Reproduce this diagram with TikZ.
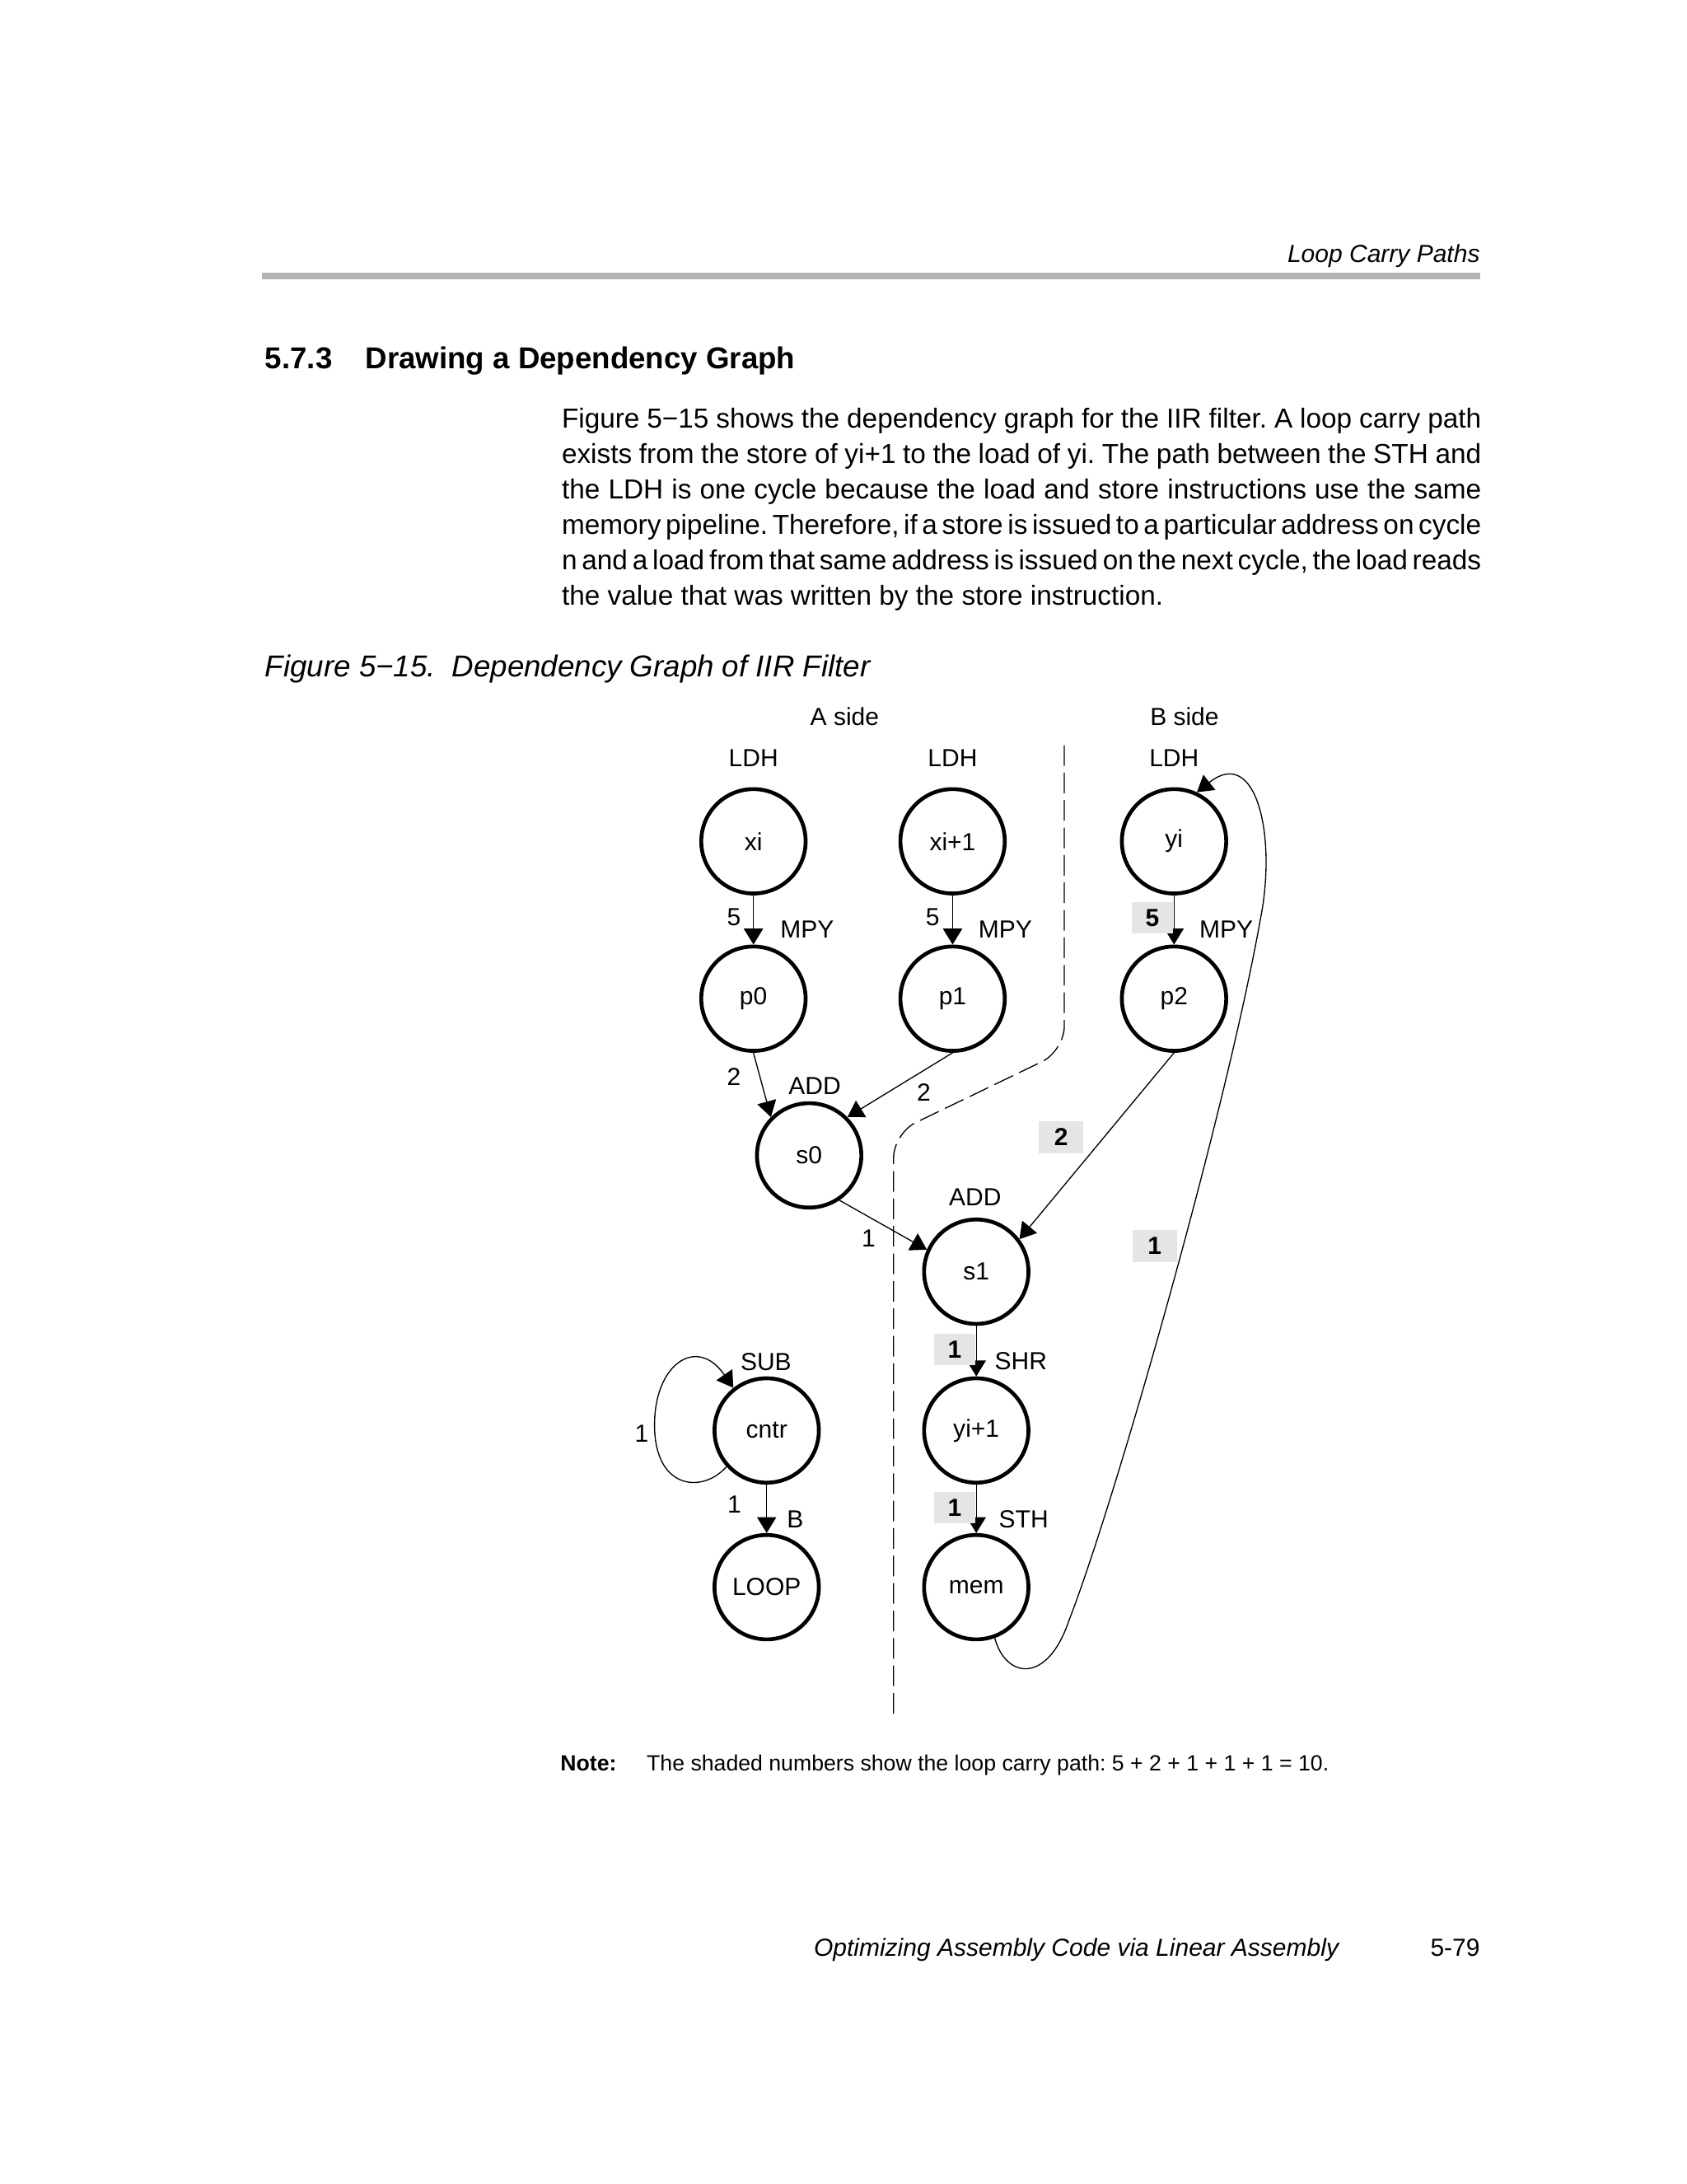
\documentclass[tikz,border=0pt]{standalone}
\usepackage{fontspec}
\setmainfont{Liberation Sans}
\usetikzlibrary{arrows.meta}
\definecolor{rulegray}{RGB}{178,178,178}
\definecolor{shade}{RGB}{229,229,229}
\tikzset{
  op/.style={circle, draw, line width=1.4pt, minimum size=38pt, inner sep=0pt, font=\fontsize{9}{11}\selectfont},
  dep/.style={line width=0.4pt, -{Triangle[length=5.8pt,width=7pt]}},
  lbl/.style={inner sep=0pt, font=\fontsize{9}{11}\selectfont},
  carry/.style={fill=shade, inner sep=0pt, minimum width=15pt, minimum height=11.4pt, font=\fontsize{9}{11}\selectfont\bfseries},
  bodyline/.style={anchor=base west, inner sep=0pt, font=\fontsize{10}{13}\selectfont}
}
\frenchspacing
\newcommand{\fullline}[1]{{\spaceskip=0.278em plus 0.3em minus 0.2em\makebox[334.8pt][s]{#1}}}

\begin{document}
\begin{tikzpicture}[x=0.017828cm, y=-0.017828cm]
\useasboundingbox[fill=white] (0,0) rectangle (1211,1568);

% Draw the page header and the rule
\node[anchor=base east, inner sep=0pt, font=\fontsize{9}{11}\selectfont\itshape] (hdr) at (1063,188.2) {Loop Carry Paths};
\fill[rulegray] (188,195.5) rectangle (1063,200.5);

% Section title
\node[anchor=base west, inner sep=0pt, font=\fontsize{11}{13}\selectfont\bfseries] (secnum) at (190,264.5) {5.7.3};
\node[anchor=base west, inner sep=0pt, font=\fontsize{11}{13}\selectfont\bfseries] (sectitle) at (262,264.5) {Drawing a Dependency Graph};

% Body text, one node per line
\node[bodyline] (l1) at (403,307.1) {\fullline{Figure 5−15 shows the dependency graph for the IIR filter. A loop carry path}};
\node[bodyline] (l2) at (403,332.6) {\fullline{exists from the store of yi+1 to the load of yi. The path between the STH and}};
\node[bodyline] (l3) at (403,358.1) {\fullline{the LDH is one cycle because the load and store instructions use the same}};
\node[bodyline] (l4) at (403,383.6) {\fullline{memory pipeline. Therefore, if a store is issued to a particular address on cycle}};
\node[bodyline] (l5) at (403,409.1) {\fullline{n and a load from that same address is issued on the next cycle, the load reads}};
\node[bodyline] (l6) at (403,434.6) {the value that was written by the store instruction.};

% Figure caption
\node[anchor=base west, inner sep=0pt, font=\fontsize{11}{13}\selectfont\itshape] (cap) at (190,485.8) {Figure 5−15.\hspace{6pt}Dependency Graph of IIR Filter};

% Side headings and the dashed split between them
\node[lbl] (aside) at (606.5,514.5) {A side};
\node[lbl] (bside) at (850.5,514.5) {B side};
\draw[line width=0.4pt, dash pattern=on 7.5pt off 2.5pt, rounded corners=9pt] (764.2,535) -- (764.2,754.5) -- (641.6,813.6) -- (641.6,1234);

% Draw the nodes
\node[op] (xi) at (541,604) {xi};
\node[op] (xi1) at (684,604) {xi+1};
\node[op] (yi) at (843,604) {yi};
\node[op] (p0) at (541,717) {p0};
\node[op] (p1) at (684,717) {p1};
\node[op] (p2) at (843,717) {p2};
\node[op] (s0) at (581,829.5) {s0};
\node[op] (s1) at (701,913) {s1};
\node[op] (cntr) at (550.5,1027) {cntr};
\node[op] (yi1) at (701,1027) {yi+1};
\node[op] (loop) at (550.5,1139.5) {LOOP};
\node[op] (mem) at (701,1139.5) {mem};

% Instruction names
\node[lbl] (ldh0) at (541,544) {LDH};
\node[lbl] (ldh1) at (684,544) {LDH};
\node[lbl] (ldh2) at (843,544) {LDH};
\node[lbl] (mpy0) at (579.5,667.3) {MPY};
\node[lbl] (mpy1) at (721.8,667.3) {MPY};
\node[lbl] (mpy2) at (880.5,667.5) {MPY};
\node[lbl] (add0) at (585,779.7) {ADD};
\node[lbl] (add1) at (700.2,859.4) {ADD};
\node[lbl] (shr) at (733,977) {SHR};
\node[lbl] (sth) at (735,1091) {STH};
\node[lbl] (sub) at (550,977.7) {SUB};
\node[lbl] (br) at (571,1091) {B};

% Draw the edges
\draw[dep] (xi) -- (p0);
\draw[dep] (xi1) -- (p1);
\draw[dep] (yi) -- (p2);
\draw[dep] (p0.south) -- (s0.135);
\draw[dep] (p1.south) -- (s0.45);
\draw[dep] (p2.south) -- (s1.37);
\draw[dep] (s0.-56) -- (s1.156);
\draw[dep] (s1) -- (yi1);
\draw[dep] (yi1) -- (mem);
\draw[dep] (cntr) -- (loop);
\draw[dep] (cntr.222) .. controls (505,1072) and (471,1070) .. (470,1025)
                      .. controls (469,980) and (500,958) .. (cntr.128);
\draw[dep] (mem.-70) .. controls (722,1205) and (752,1210) .. (767.7,1163)
                     .. controls (800,1080) and (880,800) .. (905,660)
                     .. controls (917,600) and (902,535) .. (yi.65);

% Latencies
\node[lbl] (d0) at (527,658.4) {5};
\node[lbl] (d1) at (669.6,658.4) {5};
\node[lbl] (d2) at (527,773) {2};
\node[lbl] (d3) at (663.3,784.5) {2};
\node[lbl] (d4) at (623.7,888.8) {1};
\node[lbl] (d5) at (460.7,1029) {1};
\node[lbl] (d6) at (527.3,1080.2) {1};

% Shaded latencies of the loop carry path
\node[carry] (c0) at (827.5,659) {5};
\node[carry, minimum width=16.2pt, minimum height=11.7pt] (c1) at (762,816.5) {2};
\node[carry, minimum width=16.2pt, minimum height=11.7pt] (c2) at (829,894.5) {1};
\node[carry] (c3) at (685.5,969) {1};
\node[carry] (c4) at (685.5,1082.5) {1};

% Note under the figure
\node[anchor=base west, inner sep=0pt, font=\fontsize{8}{10}\selectfont\bfseries] (notehd) at (402,1271.6) {Note:};
\node[anchor=base west, inner sep=0pt, font=\fontsize{8}{10}\selectfont] (note) at (464,1271.6) {The shaded numbers show the loop carry path: 5 + 2 + 1 + 1 + 1 = 10.};

% Page footer
\node[anchor=base west, inner sep=0pt, font=\fontsize{9}{11}\selectfont\itshape] (foot) at (584,1404.4) {Optimizing Assembly Code via Linear Assembly};
\node[anchor=base east, inner sep=0pt, font=\fontsize{9}{11}\selectfont] (pgno) at (1063,1404.4) {5-79};

\end{tikzpicture}
\end{document}
